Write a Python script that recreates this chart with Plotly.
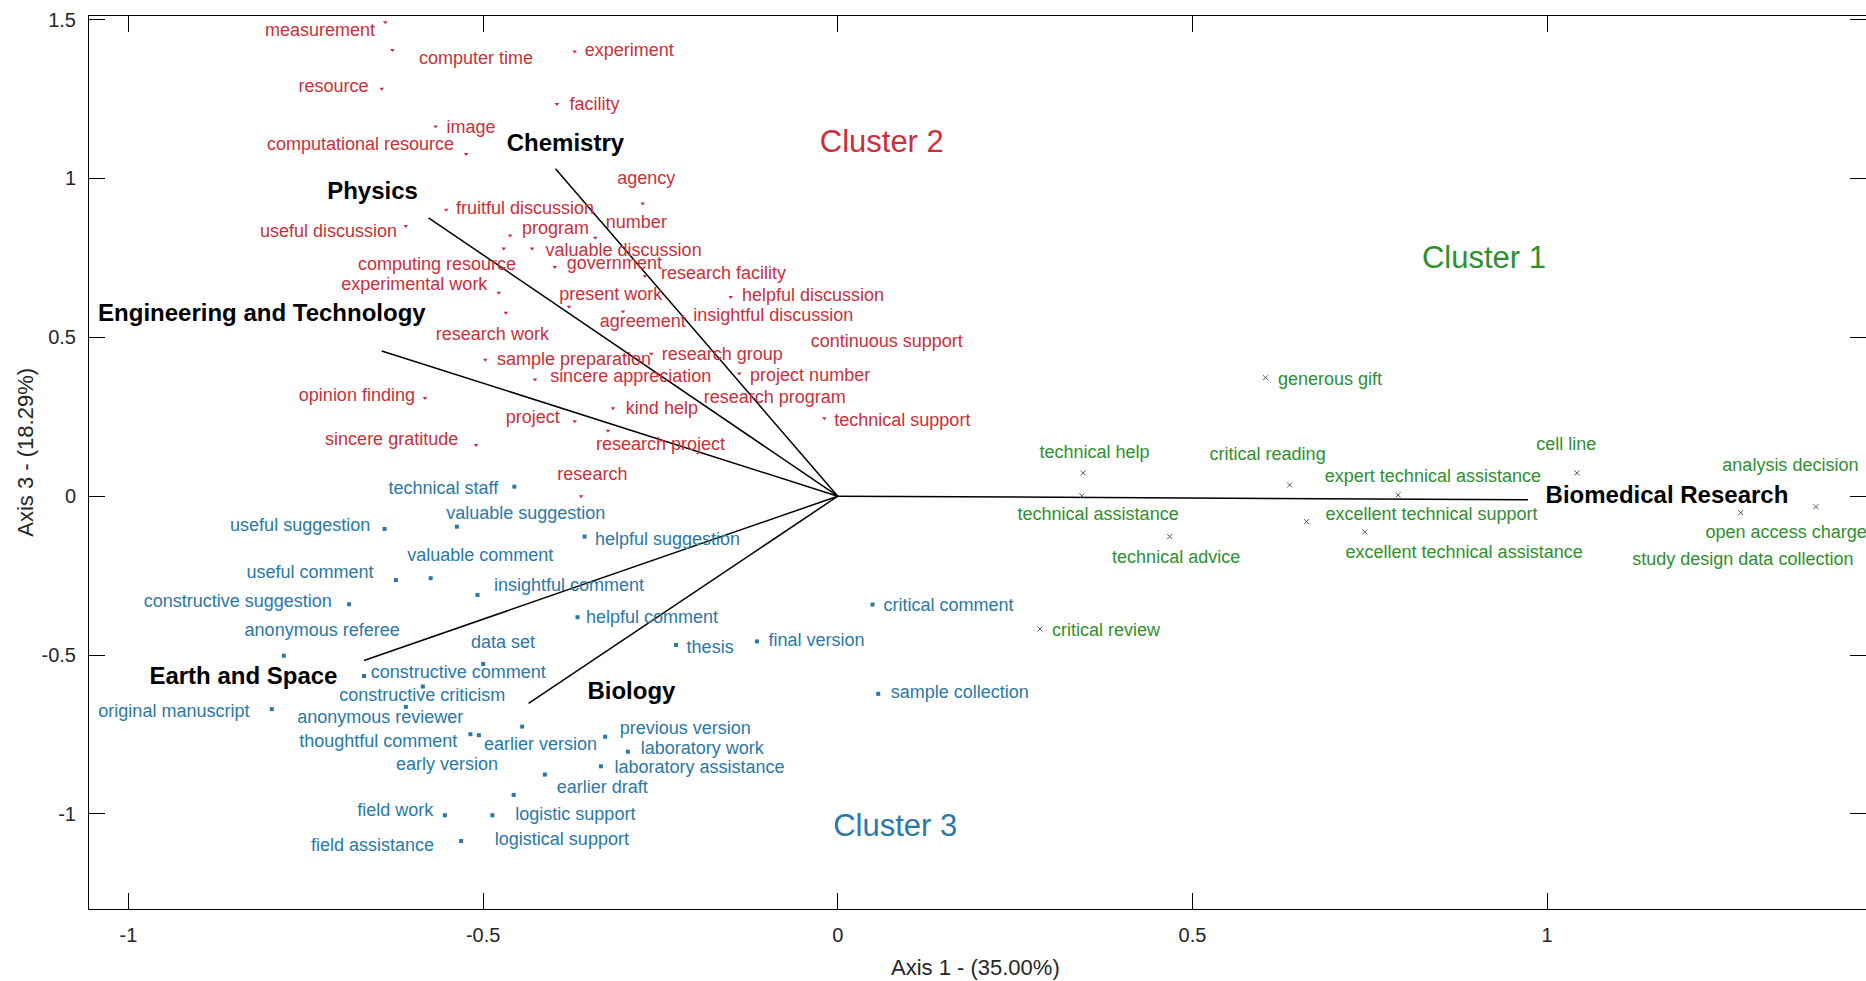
import plotly.graph_objects as go

# ---------------- data ----------------
# Cluster 2 (red) terms: marker position and label position (data units)
red_terms = ["measurement", "computer time", "experiment", "resource", "facility", "image",
             "computational resource", "agency", "fruitful discussion", "useful discussion",
             "program", "number", "valuable discussion", "computing resource", "government",
             "research facility", "experimental work", "present work", "helpful discussion",
             "research work", "agreement", "insightful discussion", "continuous support",
             "sample preparation", "research group", "sincere appreciation", "project number",
             "opinion finding", "research program", "kind help", "project", "technical support",
             "sincere gratitude", "research project", "research"]
red_x = [-0.638, -0.628, -0.371, -0.643, -0.396, -0.567, -0.524, -0.275, -0.552, -0.609,
         -0.462, -0.342, -0.431, -0.471, -0.399, -0.272, -0.478, -0.379, -0.151, -0.468,
         -0.303, None, None, -0.497, -0.263, -0.427, -0.139, -0.582, None, -0.317,
         -0.371, -0.019, -0.510, -0.324, -0.362]
red_y = [1.491, 1.404, 1.399, 1.282, 1.234, 1.163, 1.077, 0.921, 0.901, 0.850,
         0.820, 0.813, 0.779, 0.779, 0.721, 0.693, 0.640, 0.596, 0.627, 0.577,
         0.581, None, None, 0.429, 0.448, 0.367, 0.386, 0.309, None, 0.277,
         0.236, 0.245, 0.161, 0.206, 0.000]
red_lx = [-0.730, -0.510, -0.294, -0.711, -0.343, -0.517, -0.673, -0.270, -0.441, -0.718,
          -0.398, -0.284, -0.302, -0.565, -0.315, -0.161, -0.597, -0.320, -0.035, -0.487,
          -0.275, -0.091, 0.069, -0.372, -0.163, -0.292, -0.039, -0.678, -0.089, -0.248,
          -0.430, 0.091, -0.629, -0.250, -0.346]
red_ly = [1.462, 1.373, 1.399, 1.285, 1.228, 1.157, 1.105, 0.996, 0.903, 0.831,
          0.839, 0.858, 0.769, 0.727, 0.730, 0.697, 0.663, 0.633, 0.629, 0.507,
          0.545, 0.567, 0.485, 0.427, 0.442, 0.375, 0.378, 0.315, 0.307, 0.272,
          0.243, 0.236, 0.174, 0.161, 0.064]

# Cluster 3 (blue) terms
blue_terms = ["technical staff", "useful suggestion", "valuable suggestion", "helpful suggestion",
              "valuable comment", "useful comment", "insightful comment", "constructive suggestion",
              "helpful comment", "anonymous referee", "data set", "thesis", "constructive comment",
              "constructive criticism", "original manuscript", "anonymous reviewer",
              "earlier version", "previous version", "thoughtful comment", "early version",
              "laboratory work", "laboratory assistance", "earlier draft", "logistic support",
              "logistical support", "field work", "field assistance", "sample collection",
              "critical comment", "final version"]
blue_x = [-0.456, -0.639, -0.537, -0.357, -0.574, -0.623, -0.508, -0.689, -0.367, -0.781,
          -0.500, -0.228, -0.668, -0.585, -0.798, -0.609, -0.445, -0.328, -0.518, -0.506,
          -0.296, -0.334, -0.413, -0.487, -0.457, -0.554, -0.531, 0.057, 0.049, -0.114]
blue_y = [0.030, -0.103, -0.096, -0.127, -0.258, -0.264, -0.311, -0.340, -0.381, -0.502,
          -0.528, -0.468, -0.566, -0.599, -0.670, -0.663, -0.725, -0.757, -0.749, -0.752,
          -0.804, -0.850, -0.876, -1.004, -0.940, -1.004, -1.085, -0.622, -0.341, -0.457]
blue_lx = [-0.556, -0.758, -0.440, -0.240, -0.504, -0.744, -0.379, -0.846, -0.262, -0.727,
           -0.472, -0.180, -0.535, -0.586, -0.936, -0.645, -0.419, -0.215, -0.648, -0.551,
           -0.191, -0.195, -0.332, -0.370, -0.389, -0.624, -0.656, 0.172, 0.156, -0.030]
blue_ly = [0.022, -0.096, -0.059, -0.138, -0.190, -0.242, -0.285, -0.335, -0.386, -0.427,
           -0.464, -0.478, -0.557, -0.629, -0.682, -0.699, -0.785, -0.733, -0.775, -0.846,
           -0.796, -0.856, -0.919, -1.004, -1.085, -0.993, -1.103, -0.622, -0.348, -0.457]

# Cluster 1 (green) terms
green_terms = ["generous gift", "technical help", "technical assistance", "critical reading",
               "expert technical assistance", "cell line", "excellent technical support",
               "excellent technical assistance", "technical advice", "critical review",
               "analysis decision", "open access charge", "study design data collection"]
green_x = [0.603, 0.346, 0.344, 0.637, 0.790, 1.042, 0.661, 0.743, 0.468, 0.285,
           None, 1.379, 1.273]
green_y = [0.373, 0.073, 0.001, 0.035, 0.004, 0.073, -0.080, -0.112, -0.127, -0.418,
           None, -0.033, -0.052]
green_lx = [0.694, 0.362, 0.367, 0.606, 0.839, 1.027, 0.837, 0.883, 0.477, 0.378,
            1.343, 1.337, 1.276]
green_ly = [0.363, 0.133, -0.062, 0.127, 0.060, 0.158, -0.062, -0.179, -0.195, -0.426,
            0.095, -0.116, -0.201]

# Subject-area vectors (biplot arrows) and their label positions
fields = ["Chemistry", "Physics", "Engineering and Technology", "Earth and Space",
          "Biology", "Biomedical Research"]
field_x = [-0.398, -0.577, -0.643, -0.668, -0.436, 0.973]
field_y = [1.030, 0.876, 0.457, -0.517, -0.652, -0.011]
field_lx = [-0.384, -0.656, -0.812, -0.838, -0.291, 1.169]
field_ly = [1.105, 0.953, 0.569, -0.573, -0.620, -0.001]

clusters = ["Cluster 1", "Cluster 2", "Cluster 3"]
cluster_x = [0.911, 0.062, 0.081]
cluster_y = [0.742, 1.109, -1.045]

x_ticks = [-1, -0.5, 0, 0.5, 1]
x_ticktext = ["-1", "-0.5", "0", "0.5", "1"]
y_ticks = [-1, -0.5, 0, 0.5, 1, 1.5]
y_ticktext = ["-1", "-0.5", "0", "0.5", "1", "1.5"]

# ---------------- styling ----------------
RED = "#cc2f3a"
BLUE = "#2a78a8"
GREEN = "#2f8f2f"
FONT = "Liberation Sans, Arial, Helvetica, sans-serif"

fig = go.Figure()

# arrows
for name, ex, ey in zip(fields, field_x, field_y):
    fig.add_trace(go.Scatter(x=[0, ex], y=[0, ey], mode="lines",
                             line=dict(color="black", width=1.5),
                             hoverinfo="skip", showlegend=False))

# markers
fig.add_trace(go.Scatter(x=red_x, y=red_y, mode="markers",
                         marker=dict(symbol="triangle-down", size=4, color=RED),
                         showlegend=False, hoverinfo="skip"))
fig.add_trace(go.Scatter(x=blue_x, y=blue_y, mode="markers",
                         marker=dict(symbol="square", size=4, color=BLUE),
                         showlegend=False, hoverinfo="skip"))
fig.add_trace(go.Scatter(x=green_x, y=green_y, mode="markers",
                         marker=dict(symbol="x-thin", size=5, color="#555555",
                                     line=dict(width=1, color="#555555")),
                         showlegend=False, hoverinfo="skip"))

# term labels
for terms, lx, ly, col in [(red_terms, red_lx, red_ly, RED),
                           (blue_terms, blue_lx, blue_ly, BLUE),
                           (green_terms, green_lx, green_ly, GREEN)]:
    fig.add_trace(go.Scatter(x=lx, y=ly, mode="text", text=terms,
                             textposition="middle center",
                             textfont=dict(family=FONT, size=18, color=col),
                             cliponaxis=False, showlegend=False, hoverinfo="skip"))

# subject labels
fig.add_trace(go.Scatter(x=field_lx, y=field_ly, mode="text", text=fields,
                         textposition="middle center",
                         textfont=dict(family=FONT, size=24, color="black", weight="bold"),
                         cliponaxis=False, showlegend=False, hoverinfo="skip"))

# cluster labels
fig.add_trace(go.Scatter(x=cluster_x, y=cluster_y, mode="text", text=clusters,
                         textposition="middle center",
                         textfont=dict(family=FONT, size=31, color=[GREEN, RED, BLUE]),
                         cliponaxis=False, showlegend=False, hoverinfo="skip"))

axis_common = dict(showgrid=False, zeroline=False, showline=True, linecolor="black",
                   linewidth=1, mirror="ticks", ticks="inside", ticklen=16,
                   tickcolor="black", tickwidth=1,
                   tickfont=dict(family=FONT, size=20, color="#262626"))

fig.update_xaxes(range=[-1.0557, 1.4496], tickvals=x_ticks, ticktext=x_ticktext,
                 ticklabelstandoff=8, **axis_common)
fig.update_yaxes(range=[-1.299, 1.511], tickvals=y_ticks, ticktext=y_ticktext,
                 ticklabelstandoff=8, **axis_common)

fig.update_layout(
    width=1866, height=981,
    margin=dict(l=89, r=0, t=16, b=72),
    paper_bgcolor="white", plot_bgcolor="white",
    font=dict(family=FONT),
    annotations=[
        dict(text="Axis 1 - (35.00%)", xref="paper", yref="paper", x=0.499, y=-0.066,
             xanchor="center", yanchor="middle", showarrow=False,
             font=dict(family=FONT, size=22, color="#262626")),
        dict(text="Axis 3 - (18.29%)", xref="paper", yref="paper", x=-0.0355, y=0.512,
             xanchor="center", yanchor="middle", showarrow=False, textangle=-90,
             font=dict(family=FONT, size=22, color="#262626")),
    ],
)

fig.write_html("out.html", config={"displayModeBar": False},
               post_script="document.body.style.margin='0';document.body.style.overflow='hidden';")
